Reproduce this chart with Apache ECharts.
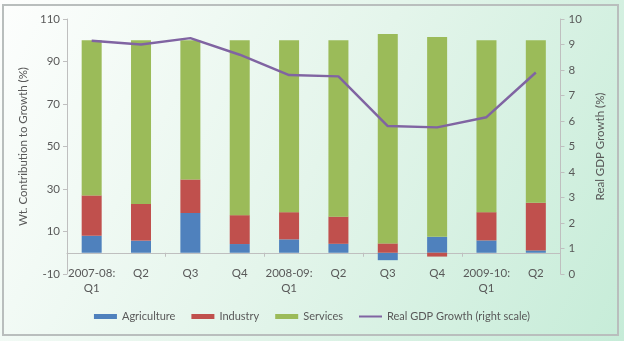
<!DOCTYPE html>
<html>
<head>
<meta charset="utf-8">
<script src="https://cdn.jsdelivr.net/npm/echarts@6/dist/echarts.min.js"></script>
<style>
  html, body { margin: 0; padding: 0; background: #ffffff; }
  #chart { width: 624px; height: 341px; }
</style>
</head>
<body>
<div id="chart"></div>
<script>
// Quarterly weighted contribution to growth by sector, with real GDP growth
const categories = ['2007-08:\nQ1', 'Q2', 'Q3', 'Q4', '2008-09:\nQ1', 'Q2', 'Q3', 'Q4', '2009-10:\nQ1', 'Q2'];
const agriculture = [8.0, 5.7, 18.7, 4.1, 6.3, 4.2, -3.5, 7.5, 5.8, 1.1];
const industry    = [19.0, 17.3, 15.8, 13.6, 12.8, 12.8, 4.4, -1.8, 13.3, 22.4];
const services    = [73.0, 77.0, 65.5, 82.3, 80.9, 83.0, 98.5, 94.0, 80.9, 76.5];
const gdpGrowth   = [9.15, 9.0, 9.25, 8.6, 7.8, 7.75, 5.8, 5.75, 6.15, 7.9];

const leftTicks = { min: -10, max: 110, interval: 20 };
const rightTicks = { min: 0, max: 10, interval: 1 };

const textColor = '#595959';
const axisColor = '#bfbfbf';
const font = 'Lato';
const fontSize = 11.5;

const chart = echarts.init(document.getElementById('chart'), null, { renderer: 'canvas' });

chart.setOption({
  animation: false,
  backgroundColor: {
    type: 'linear', x: 0, y: 0, x2: 1, y2: 1,
    colorStops: [
      { offset: 0, color: '#fdfefd' },
      { offset: 0.5, color: '#e4f5eb' },
      { offset: 1, color: '#c6ecd8' }
    ]
  },
  graphic: [{
    type: 'rect',
    shape: { x: 3, y: 5, width: 615, height: 330 },
    style: { fill: 'none', stroke: '#b9bebd', lineWidth: 2 },
    z: -1
  }],
  textStyle: { fontFamily: font, color: textColor },
  grid: { left: 67, right: 63.5, top: 19, bottom: 67 },
  legend: {
    bottom: 14,
    left: 'center',
    itemWidth: 23,
    itemHeight: 5,
    itemGap: 16,
    textStyle: { color: textColor, fontSize: 11, fontFamily: font },
    data: [
      { name: 'Agriculture', icon: 'rect' },
      { name: 'Industry', icon: 'rect' },
      { name: 'Services', icon: 'rect' },
      { name: 'Real GDP Growth (right scale)', icon: 'path://M0,0H23V2H0Z' }
    ]
  },
  xAxis: [
    {
      // category labels at the foot of the plot
      type: 'category',
      data: categories,
      position: 'bottom',
      axisLine: { show: false, onZero: false },
      axisTick: { show: false },
      axisLabel: {
        color: textColor, fontSize: fontSize, fontFamily: font,
        margin: -8, lineHeight: 15, interval: 0
      }
    },
    {
      // zero line with boundary ticks
      type: 'category',
      data: categories,
      position: 'bottom',
      axisLine: { show: true, onZero: true, onZeroAxisIndex: 0, lineStyle: { color: axisColor, width: 1 } },
      axisTick: { show: true, length: 4, lineStyle: { color: axisColor } },
      axisLabel: { show: false }
    }
  ],
  yAxis: [
    {
      type: 'value',
      min: leftTicks.min, max: leftTicks.max, interval: leftTicks.interval,
      name: 'Wt. Contribution to Growth (%)',
      nameLocation: 'middle',
      nameRotate: 90,
      nameGap: 37,
      nameTextStyle: { color: textColor, fontSize: fontSize, fontFamily: font },
      axisLine: { show: true, lineStyle: { color: axisColor } },
      axisTick: { show: true, length: 4, lineStyle: { color: axisColor } },
      axisLabel: { color: textColor, fontSize: fontSize, fontFamily: font, margin: 7 },
      splitLine: { show: false }
    },
    {
      type: 'value',
      position: 'right',
      min: rightTicks.min, max: rightTicks.max, interval: rightTicks.interval,
      name: 'Real GDP Growth (%)',
      nameLocation: 'middle',
      nameRotate: 90,
      nameGap: 34,
      nameTextStyle: { color: textColor, fontSize: fontSize, fontFamily: font },
      axisLine: { show: true, lineStyle: { color: axisColor } },
      axisTick: { show: true, length: 4, lineStyle: { color: axisColor } },
      axisLabel: { color: textColor, fontSize: fontSize, fontFamily: font, margin: 8 },
      splitLine: { show: false }
    }
  ],
  series: [
    {
      name: 'Agriculture', type: 'bar', stack: 'share', barWidth: 20,
      xAxisIndex: 0, yAxisIndex: 0,
      itemStyle: { color: '#4f81bd' },
      data: agriculture
    },
    {
      name: 'Industry', type: 'bar', stack: 'share', barWidth: 20,
      xAxisIndex: 0, yAxisIndex: 0,
      itemStyle: { color: '#c0504d' },
      data: industry
    },
    {
      name: 'Services', type: 'bar', stack: 'share', barWidth: 20,
      xAxisIndex: 0, yAxisIndex: 0,
      itemStyle: { color: '#9bbb59' },
      data: services
    },
    {
      name: 'Real GDP Growth (right scale)', type: 'line',
      xAxisIndex: 0, yAxisIndex: 1,
      symbol: 'none',
      lineStyle: { color: '#8064a2', width: 2.5 },
      itemStyle: { color: '#8064a2' },
      data: gdpGrowth,
      z: 5
    }
  ]
});
</script>
</body>
</html>
